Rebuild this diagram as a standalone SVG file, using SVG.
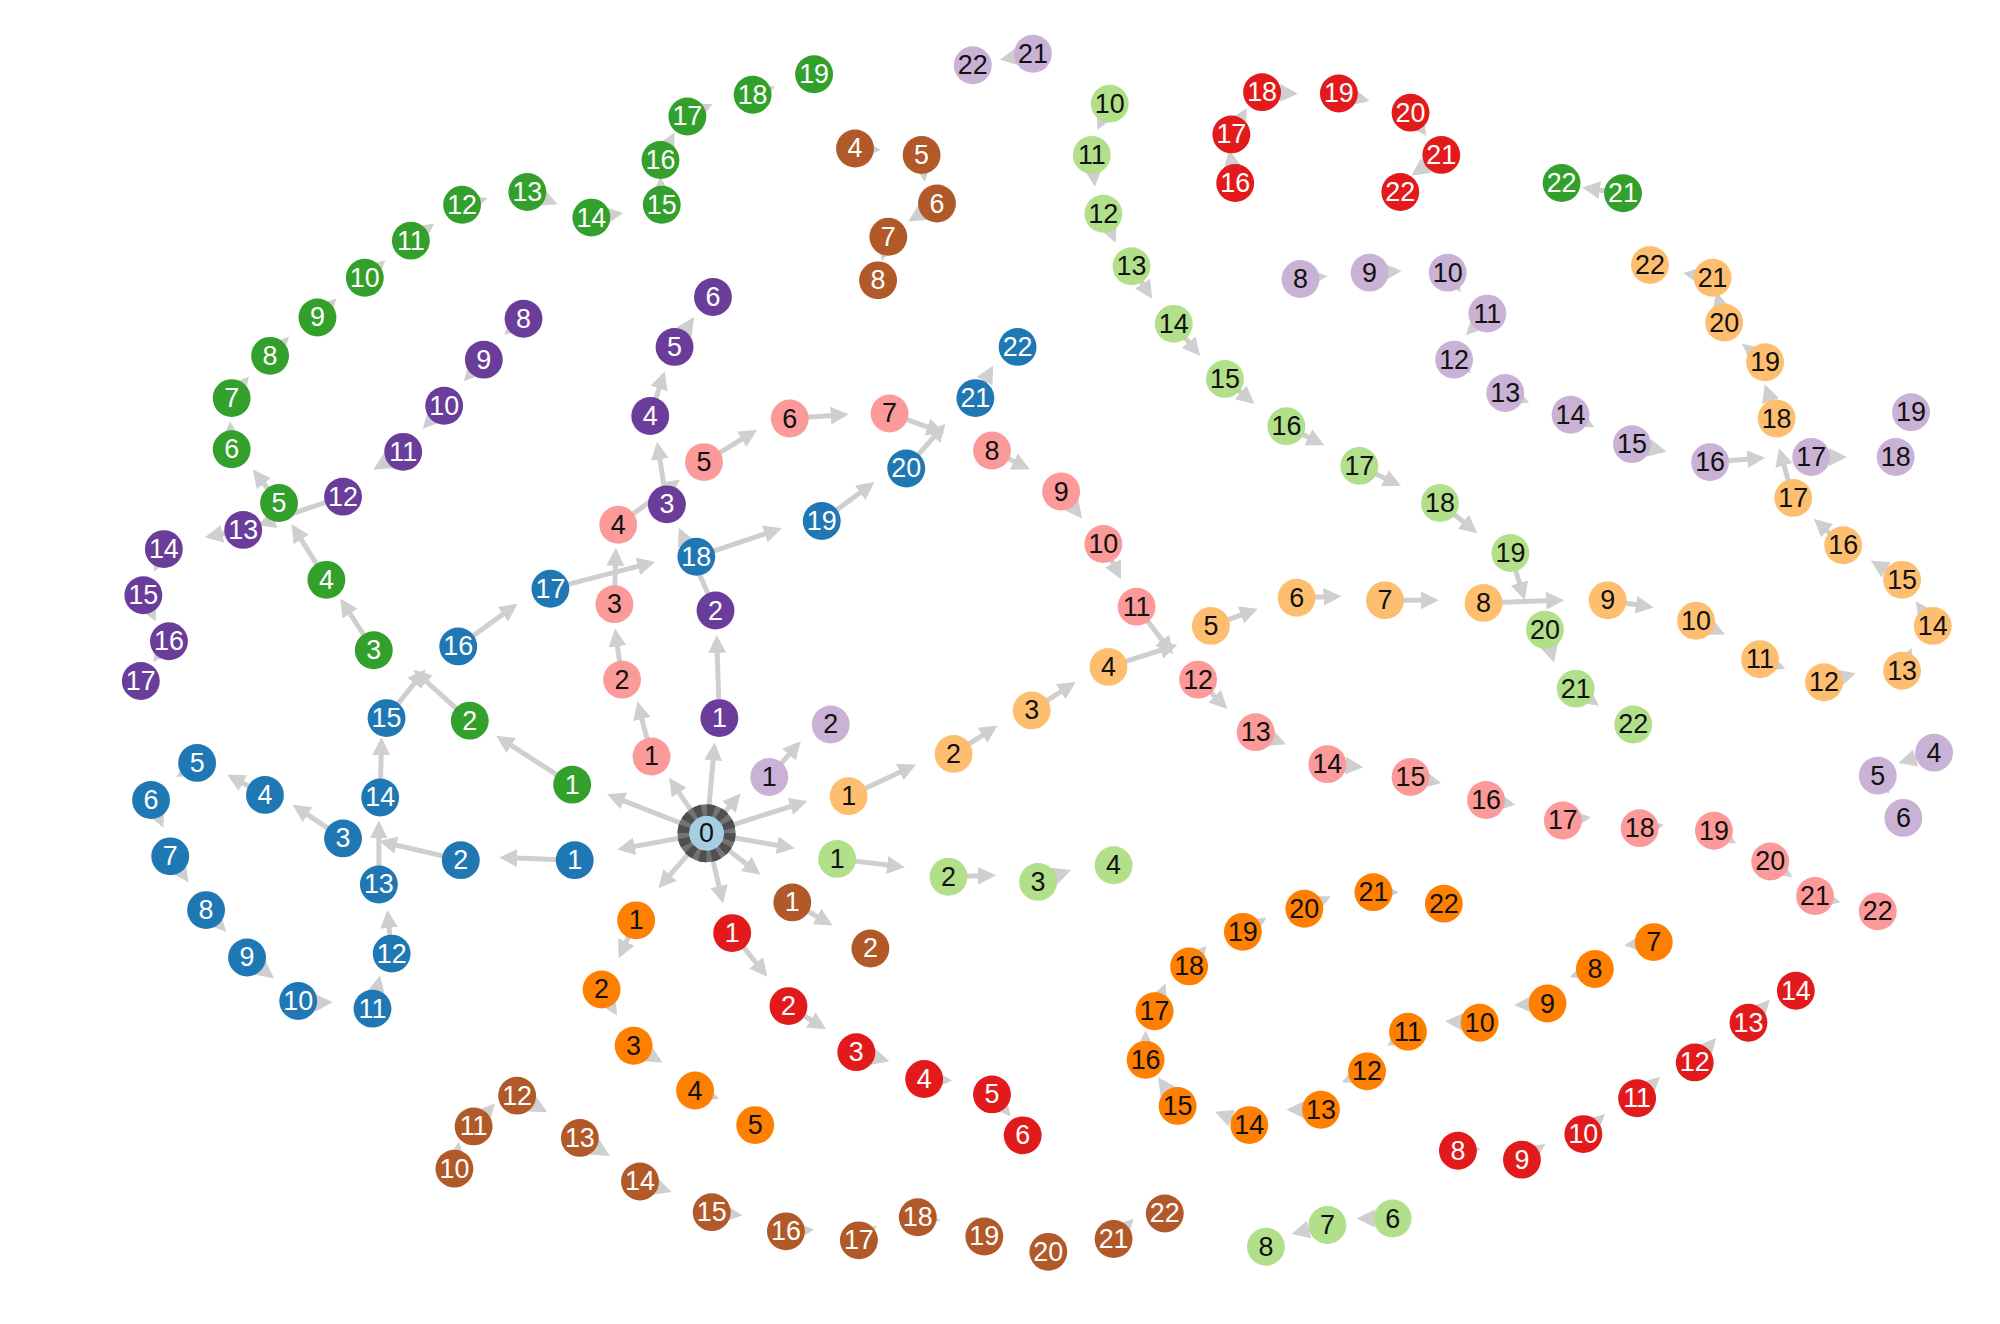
<svg xmlns="http://www.w3.org/2000/svg" width="2000" height="1324" viewBox="0 0 2000 1324">
<style>
.e line{stroke:#cfcfcf;stroke-width:3.9;marker-end:url(#ah)}
.n text,.c0 text{font-family:"Liberation Sans",Arial,Helvetica,sans-serif;font-size:21px;text-anchor:middle;dominant-baseline:central}
.n circle{stroke:none}
.c0 .fill{fill:#a6cee3;stroke:#737373;stroke-width:9}
.c0 .ring{fill:none;stroke:#4f4f4f;stroke-width:9;stroke-dasharray:5.5 4}
.c0 text{fill:#111}
.bl circle{fill:#1f78b4}.bl text{fill:#fff}
.gr circle{fill:#33a02c}.gr text{fill:#fff}
.pk circle{fill:#fb9a99}.pk text{fill:#111}
.pu circle{fill:#6a3d9a}.pu text{fill:#fff}
.lp circle{fill:#cab2d6}.lp text{fill:#111}
.lo circle{fill:#fdbf6f}.lo text{fill:#111}
.lg circle{fill:#b2df8a}.lg text{fill:#111}
.rd circle{fill:#e31a1c}.rd text{fill:#fff}
.or circle{fill:#ff7f00}.or text{fill:#111}
.br circle{fill:#b15928}.br text{fill:#fff}
</style>
<defs>
<marker id="ah" markerUnits="userSpaceOnUse" markerWidth="16" markerHeight="16" refX="10" refY="7" orient="auto">
<path d="M0,0 L14,7 L0,14 z" fill="#cfcfcf"/>
</marker>
</defs>
<rect width="2000" height="1324" fill="#fff"/>
<g transform="scale(1.28)">
<g id="connectors" class="e">
<line x1="552" y1="651" x2="486" y2="663"/>
<line x1="552" y1="651" x2="478" y2="622"/>
<line x1="552" y1="651" x2="525" y2="611"/>
<line x1="552" y1="651" x2="558" y2="584"/>
<line x1="552" y1="651" x2="576" y2="623"/>
<line x1="552" y1="651" x2="627" y2="627"/>
<line x1="552" y1="651" x2="617" y2="662"/>
<line x1="552" y1="651" x2="591" y2="681"/>
<line x1="552" y1="651" x2="564" y2="702"/>
<line x1="552" y1="651" x2="517" y2="691"/>
<line x1="449" y1="672" x2="394" y2="670"/>
<line x1="360" y1="672" x2="300" y2="658"/>
<line x1="268" y1="655" x2="232" y2="631"/>
<line x1="207" y1="621" x2="181" y2="607"/>
<line x1="154" y1="596" x2="141" y2="605"/>
<line x1="118" y1="625" x2="126" y2="643"/>
<line x1="133" y1="669" x2="145" y2="686"/>
<line x1="161" y1="711" x2="174" y2="725"/>
<line x1="193" y1="748" x2="211" y2="762"/>
<line x1="233" y1="784" x2="256" y2="783"/>
<line x1="291" y1="788" x2="296" y2="766"/>
<line x1="306" y1="745" x2="303" y2="715"/>
<line x1="296" y1="691" x2="296" y2="645"/>
<line x1="297" y1="623" x2="298" y2="580"/>
<line x1="302" y1="561" x2="330" y2="526"/>
<line x1="358" y1="505" x2="401" y2="474"/>
<line x1="430" y1="460" x2="508" y2="440"/>
<line x1="544" y1="435" x2="607" y2="414"/>
<line x1="642" y1="407" x2="680" y2="379"/>
<line x1="708" y1="366" x2="736" y2="334"/>
<line x1="762" y1="311" x2="774" y2="289"/>
<line x1="447" y1="613" x2="391" y2="577"/>
<line x1="367" y1="563" x2="326" y2="526"/>
<line x1="292" y1="508" x2="268" y2="471"/>
<line x1="255" y1="453" x2="230" y2="413"/>
<line x1="218" y1="393" x2="200" y2="370"/>
<line x1="181" y1="351" x2="180" y2="333"/>
<line x1="181" y1="311" x2="192" y2="297"/>
<line x1="211" y1="278" x2="223" y2="266"/>
<line x1="248" y1="248" x2="260" y2="236"/>
<line x1="285" y1="217" x2="298" y2="206"/>
<line x1="321" y1="188" x2="336" y2="177"/>
<line x1="361" y1="160" x2="377" y2="156"/>
<line x1="412" y1="150" x2="432" y2="158"/>
<line x1="462" y1="170" x2="483" y2="167"/>
<line x1="517" y1="160" x2="516" y2="142"/>
<line x1="516" y1="125" x2="525" y2="107"/>
<line x1="537" y1="91" x2="553" y2="83"/>
<line x1="588" y1="74" x2="602" y2="69"/>
<line x1="1268" y1="151" x2="1240" y2="147"/>
<line x1="509" y1="591" x2="499" y2="552"/>
<line x1="486" y1="531" x2="481" y2="495"/>
<line x1="480" y1="472" x2="481" y2="432"/>
<line x1="483" y1="410" x2="528" y2="377"/>
<line x1="550" y1="361" x2="588" y2="338"/>
<line x1="617" y1="327" x2="659" y2="324"/>
<line x1="695" y1="323" x2="734" y2="337"/>
<line x1="775" y1="352" x2="801" y2="365"/>
<line x1="829" y1="384" x2="843" y2="402"/>
<line x1="862" y1="425" x2="874" y2="449"/>
<line x1="888" y1="474" x2="914" y2="508"/>
<line x1="936" y1="531" x2="956" y2="551"/>
<line x1="981" y1="572" x2="1001" y2="580"/>
<line x1="1037" y1="597" x2="1061" y2="599"/>
<line x1="1102" y1="607" x2="1122" y2="611"/>
<line x1="1161" y1="625" x2="1180" y2="628"/>
<line x1="1221" y1="641" x2="1239" y2="639"/>
<line x1="1281" y1="647" x2="1296" y2="645"/>
<line x1="1339" y1="649" x2="1353" y2="657"/>
<line x1="1383" y1="673" x2="1397" y2="683"/>
<line x1="1418" y1="700" x2="1434" y2="704"/>
<line x1="562" y1="561" x2="560" y2="500"/>
<line x1="559" y1="477" x2="532" y2="416"/>
<line x1="521" y1="394" x2="514" y2="349"/>
<line x1="508" y1="325" x2="518" y2="294"/>
<line x1="527" y1="271" x2="540" y2="251"/>
<line x1="409" y1="249" x2="397" y2="259"/>
<line x1="378" y1="281" x2="365" y2="295"/>
<line x1="347" y1="317" x2="333" y2="332"/>
<line x1="315" y1="353" x2="295" y2="365"/>
<line x1="268" y1="388" x2="205" y2="409"/>
<line x1="190" y1="414" x2="164" y2="419"/>
<line x1="128" y1="429" x2="122" y2="443"/>
<line x1="112" y1="465" x2="120" y2="482"/>
<line x1="132" y1="501" x2="122" y2="514"/>
<line x1="601" y1="607" x2="623" y2="582"/>
<line x1="1511" y1="588" x2="1487" y2="595"/>
<line x1="1467" y1="606" x2="1474" y2="617"/>
<line x1="1016" y1="218" x2="1033" y2="216"/>
<line x1="1070" y1="213" x2="1091" y2="212"/>
<line x1="1131" y1="213" x2="1139" y2="225"/>
<line x1="1162" y1="245" x2="1148" y2="259"/>
<line x1="1136" y1="281" x2="1146" y2="289"/>
<line x1="1176" y1="307" x2="1191" y2="313"/>
<line x1="1227" y1="324" x2="1242" y2="332"/>
<line x1="1275" y1="347" x2="1298" y2="352"/>
<line x1="1336" y1="361" x2="1375" y2="358"/>
<line x1="1415" y1="357" x2="1439" y2="357"/>
<line x1="807" y1="42" x2="785" y2="46"/>
<line x1="663" y1="622" x2="712" y2="599"/>
<line x1="745" y1="589" x2="776" y2="569"/>
<line x1="806" y1="555" x2="837" y2="535"/>
<line x1="866" y1="521" x2="916" y2="505"/>
<line x1="946" y1="489" x2="979" y2="477"/>
<line x1="1013" y1="467" x2="1044" y2="466"/>
<line x1="1082" y1="469" x2="1120" y2="469"/>
<line x1="1159" y1="471" x2="1218" y2="469"/>
<line x1="1256" y1="469" x2="1288" y2="474"/>
<line x1="1325" y1="485" x2="1344" y2="494"/>
<line x1="1375" y1="515" x2="1391" y2="521"/>
<line x1="1425" y1="533" x2="1446" y2="527"/>
<line x1="1486" y1="524" x2="1492" y2="510"/>
<line x1="1510" y1="489" x2="1499" y2="473"/>
<line x1="1486" y1="453" x2="1465" y2="440"/>
<line x1="1440" y1="426" x2="1420" y2="408"/>
<line x1="1401" y1="389" x2="1391" y2="354"/>
<line x1="1388" y1="327" x2="1380" y2="304"/>
<line x1="1379" y1="283" x2="1364" y2="271"/>
<line x1="1347" y1="252" x2="1342" y2="232"/>
<line x1="1338" y1="217" x2="1319" y2="214"/>
<line x1="654" y1="671" x2="703" y2="677"/>
<line x1="741" y1="685" x2="774" y2="684"/>
<line x1="811" y1="689" x2="833" y2="681"/>
<line x1="1088" y1="952" x2="1064" y2="952"/>
<line x1="1037" y1="957" x2="1013" y2="963"/>
<line x1="867" y1="81" x2="859" y2="98"/>
<line x1="853" y1="121" x2="855" y2="142"/>
<line x1="862" y1="167" x2="870" y2="186"/>
<line x1="884" y1="208" x2="898" y2="230"/>
<line x1="917" y1="253" x2="935" y2="275"/>
<line x1="957" y1="296" x2="977" y2="313"/>
<line x1="1005" y1="333" x2="1031" y2="346"/>
<line x1="1062" y1="364" x2="1091" y2="378"/>
<line x1="1125" y1="393" x2="1151" y2="414"/>
<line x1="1180" y1="432" x2="1190" y2="465"/>
<line x1="1207" y1="492" x2="1213" y2="514"/>
<line x1="1231" y1="538" x2="1246" y2="549"/>
<line x1="572" y1="729" x2="597" y2="760"/>
<line x1="616" y1="786" x2="642" y2="802"/>
<line x1="669" y1="822" x2="691" y2="828"/>
<line x1="722" y1="843" x2="740" y2="844"/>
<line x1="775" y1="855" x2="787" y2="869"/>
<line x1="1139" y1="899" x2="1153" y2="898"/>
<line x1="1189" y1="906" x2="1204" y2="896"/>
<line x1="1237" y1="886" x2="1251" y2="873"/>
<line x1="1279" y1="858" x2="1294" y2="844"/>
<line x1="1324" y1="830" x2="1338" y2="814"/>
<line x1="1366" y1="799" x2="1380" y2="784"/>
<line x1="965" y1="143" x2="961" y2="121"/>
<line x1="962" y1="105" x2="972" y2="88"/>
<line x1="986" y1="72" x2="1010" y2="73"/>
<line x1="1046" y1="73" x2="1066" y2="78"/>
<line x1="1102" y1="88" x2="1112" y2="103"/>
<line x1="1126" y1="121" x2="1106" y2="135"/>
<line x1="497" y1="719" x2="485" y2="745"/>
<line x1="470" y1="773" x2="480" y2="790"/>
<line x1="495" y1="817" x2="514" y2="828"/>
<line x1="543" y1="852" x2="558" y2="857"/>
<line x1="1292" y1="736" x2="1273" y2="738"/>
<line x1="1246" y1="757" x2="1230" y2="762"/>
<line x1="1209" y1="784" x2="1187" y2="785"/>
<line x1="1156" y1="799" x2="1133" y2="798"/>
<line x1="1100" y1="806" x2="1087" y2="815"/>
<line x1="1068" y1="837" x2="1052" y2="844"/>
<line x1="1032" y1="867" x2="1009" y2="867"/>
<line x1="976" y1="879" x2="953" y2="870"/>
<line x1="920" y1="864" x2="907" y2="845"/>
<line x1="895" y1="828" x2="895" y2="809"/>
<line x1="902" y1="790" x2="909" y2="772"/>
<line x1="929" y1="755" x2="940" y2="742"/>
<line x1="971" y1="728" x2="986" y2="719"/>
<line x1="1019" y1="710" x2="1036" y2="702"/>
<line x1="1073" y1="697" x2="1089" y2="697"/>
<line x1="619" y1="705" x2="647" y2="721"/>
<line x1="668" y1="116" x2="684" y2="117"/>
<line x1="720" y1="121" x2="722" y2="138"/>
<line x1="732" y1="159" x2="713" y2="171"/>
<line x1="694" y1="185" x2="690" y2="200"/>
<line x1="355" y1="913" x2="358" y2="896"/>
<line x1="370" y1="880" x2="384" y2="865"/>
<line x1="404" y1="856" x2="424" y2="867"/>
<line x1="453" y1="889" x2="473" y2="901"/>
<line x1="500" y1="923" x2="521" y2="930"/>
<line x1="556" y1="947" x2="576" y2="949"/>
<line x1="614" y1="962" x2="632" y2="961"/>
<line x1="671" y1="969" x2="682" y2="960"/>
<line x1="717" y1="951" x2="731" y2="953"/>
<line x1="769" y1="966" x2="780" y2="967"/>
<line x1="819" y1="978" x2="830" y2="972"/>
<line x1="870" y1="968" x2="883" y2="955"/>
</g>
<g id="nodes">
<g id="n0" class="c0"><circle class="fill" cx="552" cy="651" r="18.2"/><circle class="ring" cx="552" cy="651" r="18.2"/><text x="552" y="651">0</text></g>
<g id="blue" class="n bl">
<g id="b1"><circle cx="449" cy="672" r="14.8"/><text x="449" y="672">1</text></g>
<g id="b2"><circle cx="360" cy="672" r="14.8"/><text x="360" y="672">2</text></g>
<g id="b3"><circle cx="268" cy="655" r="14.8"/><text x="268" y="655">3</text></g>
<g id="b4"><circle cx="207" cy="621" r="14.8"/><text x="207" y="621">4</text></g>
<g id="b5"><circle cx="154" cy="596" r="14.8"/><text x="154" y="596">5</text></g>
<g id="b6"><circle cx="118" cy="625" r="14.8"/><text x="118" y="625">6</text></g>
<g id="b7"><circle cx="133" cy="669" r="14.8"/><text x="133" y="669">7</text></g>
<g id="b8"><circle cx="161" cy="711" r="14.8"/><text x="161" y="711">8</text></g>
<g id="b9"><circle cx="193" cy="748" r="14.8"/><text x="193" y="748">9</text></g>
<g id="b10"><circle cx="233" cy="782" r="14.8"/><text x="233" y="782">10</text></g>
<g id="b11"><circle cx="291" cy="788" r="14.8"/><text x="291" y="788">11</text></g>
<g id="b12"><circle cx="306" cy="745" r="14.8"/><text x="306" y="745">12</text></g>
<g id="b13"><circle cx="296" cy="691" r="14.8"/><text x="296" y="691">13</text></g>
<g id="b14"><circle cx="297" cy="623" r="14.8"/><text x="297" y="623">14</text></g>
<g id="b15"><circle cx="302" cy="561" r="14.8"/><text x="302" y="561">15</text></g>
<g id="b16"><circle cx="358" cy="505" r="14.8"/><text x="358" y="505">16</text></g>
<g id="b17"><circle cx="430" cy="460" r="14.8"/><text x="430" y="460">17</text></g>
<g id="b18"><circle cx="544" cy="435" r="14.8"/><text x="544" y="435">18</text></g>
<g id="b19"><circle cx="642" cy="407" r="14.8"/><text x="642" y="407">19</text></g>
<g id="b20"><circle cx="708" cy="366" r="14.8"/><text x="708" y="366">20</text></g>
<g id="b21"><circle cx="762" cy="311" r="14.8"/><text x="762" y="311">21</text></g>
<g id="b22"><circle cx="795" cy="271" r="14.8"/><text x="795" y="271">22</text></g>
</g>
<g id="green" class="n gr">
<g id="g1"><circle cx="447" cy="613" r="14.8"/><text x="447" y="613">1</text></g>
<g id="g2"><circle cx="367" cy="563" r="14.8"/><text x="367" y="563">2</text></g>
<g id="g3"><circle cx="292" cy="508" r="14.8"/><text x="292" y="508">3</text></g>
<g id="g4"><circle cx="255" cy="453" r="14.8"/><text x="255" y="453">4</text></g>
<g id="g5"><circle cx="218" cy="393" r="14.8"/><text x="218" y="393">5</text></g>
<g id="g6"><circle cx="181" cy="351" r="14.8"/><text x="181" y="351">6</text></g>
<g id="g7"><circle cx="181" cy="311" r="14.8"/><text x="181" y="311">7</text></g>
<g id="g8"><circle cx="211" cy="278" r="14.8"/><text x="211" y="278">8</text></g>
<g id="g9"><circle cx="248" cy="248" r="14.8"/><text x="248" y="248">9</text></g>
<g id="g10"><circle cx="285" cy="217" r="14.8"/><text x="285" y="217">10</text></g>
<g id="g11"><circle cx="321" cy="188" r="14.8"/><text x="321" y="188">11</text></g>
<g id="g12"><circle cx="361" cy="160" r="14.8"/><text x="361" y="160">12</text></g>
<g id="g13"><circle cx="412" cy="150" r="14.8"/><text x="412" y="150">13</text></g>
<g id="g14"><circle cx="462" cy="170" r="14.8"/><text x="462" y="170">14</text></g>
<g id="g15"><circle cx="517" cy="160" r="14.8"/><text x="517" y="160">15</text></g>
<g id="g16"><circle cx="516" cy="125" r="14.8"/><text x="516" y="125">16</text></g>
<g id="g17"><circle cx="537" cy="91" r="14.8"/><text x="537" y="91">17</text></g>
<g id="g18"><circle cx="588" cy="74" r="14.8"/><text x="588" y="74">18</text></g>
<g id="g19"><circle cx="636" cy="58" r="14.8"/><text x="636" y="58">19</text></g>
<g id="g21"><circle cx="1268" cy="151" r="14.8"/><text x="1268" y="151">21</text></g>
<g id="g22"><circle cx="1220" cy="143" r="14.8"/><text x="1220" y="143">22</text></g>
</g>
<g id="pink" class="n pk">
<g id="p1"><circle cx="509" cy="591" r="14.8"/><text x="509" y="591">1</text></g>
<g id="p2"><circle cx="486" cy="531" r="14.8"/><text x="486" y="531">2</text></g>
<g id="p3"><circle cx="480" cy="472" r="14.8"/><text x="480" y="472">3</text></g>
<g id="p4"><circle cx="483" cy="410" r="14.8"/><text x="483" y="410">4</text></g>
<g id="p5"><circle cx="550" cy="361" r="14.8"/><text x="550" y="361">5</text></g>
<g id="p6"><circle cx="617" cy="327" r="14.8"/><text x="617" y="327">6</text></g>
<g id="p7"><circle cx="695" cy="323" r="14.8"/><text x="695" y="323">7</text></g>
<g id="p8"><circle cx="775" cy="352" r="14.8"/><text x="775" y="352">8</text></g>
<g id="p9"><circle cx="829" cy="384" r="14.8"/><text x="829" y="384">9</text></g>
<g id="p10"><circle cx="862" cy="425" r="14.8"/><text x="862" y="425">10</text></g>
<g id="p11"><circle cx="888" cy="474" r="14.8"/><text x="888" y="474">11</text></g>
<g id="p12"><circle cx="936" cy="531" r="14.8"/><text x="936" y="531">12</text></g>
<g id="p13"><circle cx="981" cy="572" r="14.8"/><text x="981" y="572">13</text></g>
<g id="p14"><circle cx="1037" cy="597" r="14.8"/><text x="1037" y="597">14</text></g>
<g id="p15"><circle cx="1102" cy="607" r="14.8"/><text x="1102" y="607">15</text></g>
<g id="p16"><circle cx="1161" cy="625" r="14.8"/><text x="1161" y="625">16</text></g>
<g id="p17"><circle cx="1221" cy="641" r="14.8"/><text x="1221" y="641">17</text></g>
<g id="p18"><circle cx="1281" cy="647" r="14.8"/><text x="1281" y="647">18</text></g>
<g id="p19"><circle cx="1339" cy="649" r="14.8"/><text x="1339" y="649">19</text></g>
<g id="p20"><circle cx="1383" cy="673" r="14.8"/><text x="1383" y="673">20</text></g>
<g id="p21"><circle cx="1418" cy="700" r="14.8"/><text x="1418" y="700">21</text></g>
<g id="p22"><circle cx="1467" cy="712" r="14.8"/><text x="1467" y="712">22</text></g>
</g>
<g id="purple" class="n pu">
<g id="u1"><circle cx="562" cy="561" r="14.8"/><text x="562" y="561">1</text></g>
<g id="u2"><circle cx="559" cy="477" r="14.8"/><text x="559" y="477">2</text></g>
<g id="u3"><circle cx="521" cy="394" r="14.8"/><text x="521" y="394">3</text></g>
<g id="u4"><circle cx="508" cy="325" r="14.8"/><text x="508" y="325">4</text></g>
<g id="u5"><circle cx="527" cy="271" r="14.8"/><text x="527" y="271">5</text></g>
<g id="u6"><circle cx="557" cy="232" r="14.8"/><text x="557" y="232">6</text></g>
<g id="u8"><circle cx="409" cy="249" r="14.8"/><text x="409" y="249">8</text></g>
<g id="u9"><circle cx="378" cy="281" r="14.8"/><text x="378" y="281">9</text></g>
<g id="u10"><circle cx="347" cy="317" r="14.8"/><text x="347" y="317">10</text></g>
<g id="u11"><circle cx="315" cy="353" r="14.8"/><text x="315" y="353">11</text></g>
<g id="u12"><circle cx="268" cy="388" r="14.8"/><text x="268" y="388">12</text></g>
<g id="u13"><circle cx="190" cy="414" r="14.8"/><text x="190" y="414">13</text></g>
<g id="u14"><circle cx="128" cy="429" r="14.8"/><text x="128" y="429">14</text></g>
<g id="u15"><circle cx="112" cy="465" r="14.8"/><text x="112" y="465">15</text></g>
<g id="u16"><circle cx="132" cy="501" r="14.8"/><text x="132" y="501">16</text></g>
<g id="u17"><circle cx="110" cy="532" r="14.8"/><text x="110" y="532">17</text></g>
</g>
<g id="lightpurple" class="n lp">
<g id="lp1"><circle cx="601" cy="607" r="14.8"/><text x="601" y="607">1</text></g>
<g id="lp2"><circle cx="649" cy="566" r="14.8"/><text x="649" y="566">2</text></g>
<g id="lp4"><circle cx="1511" cy="588" r="14.8"/><text x="1511" y="588">4</text></g>
<g id="lp5"><circle cx="1467" cy="606" r="14.8"/><text x="1467" y="606">5</text></g>
<g id="lp6"><circle cx="1487" cy="639" r="14.8"/><text x="1487" y="639">6</text></g>
<g id="lp8"><circle cx="1016" cy="218" r="14.8"/><text x="1016" y="218">8</text></g>
<g id="lp9"><circle cx="1070" cy="213" r="14.8"/><text x="1070" y="213">9</text></g>
<g id="lp10"><circle cx="1131" cy="213" r="14.8"/><text x="1131" y="213">10</text></g>
<g id="lp11"><circle cx="1162" cy="245" r="14.8"/><text x="1162" y="245">11</text></g>
<g id="lp12"><circle cx="1136" cy="281" r="14.8"/><text x="1136" y="281">12</text></g>
<g id="lp13"><circle cx="1176" cy="307" r="14.8"/><text x="1176" y="307">13</text></g>
<g id="lp14"><circle cx="1227" cy="324" r="14.8"/><text x="1227" y="324">14</text></g>
<g id="lp15"><circle cx="1275" cy="347" r="14.8"/><text x="1275" y="347">15</text></g>
<g id="lp16"><circle cx="1336" cy="361" r="14.8"/><text x="1336" y="361">16</text></g>
<g id="lp17"><circle cx="1415" cy="357" r="14.8"/><text x="1415" y="357">17</text></g>
<g id="lp18"><circle cx="1481" cy="357" r="14.8"/><text x="1481" y="357">18</text></g>
<g id="lp19"><circle cx="1493" cy="322" r="14.8"/><text x="1493" y="322">19</text></g>
<g id="lp21"><circle cx="807" cy="42" r="14.8"/><text x="807" y="42">21</text></g>
<g id="lp22"><circle cx="760" cy="51" r="14.8"/><text x="760" y="51">22</text></g>
</g>
<g id="lightorange" class="n lo">
<g id="lo1"><circle cx="663" cy="622" r="14.8"/><text x="663" y="622">1</text></g>
<g id="lo2"><circle cx="745" cy="589" r="14.8"/><text x="745" y="589">2</text></g>
<g id="lo3"><circle cx="806" cy="555" r="14.8"/><text x="806" y="555">3</text></g>
<g id="lo4"><circle cx="866" cy="521" r="14.8"/><text x="866" y="521">4</text></g>
<g id="lo5"><circle cx="946" cy="489" r="14.8"/><text x="946" y="489">5</text></g>
<g id="lo6"><circle cx="1013" cy="467" r="14.8"/><text x="1013" y="467">6</text></g>
<g id="lo7"><circle cx="1082" cy="469" r="14.8"/><text x="1082" y="469">7</text></g>
<g id="lo8"><circle cx="1159" cy="471" r="14.8"/><text x="1159" y="471">8</text></g>
<g id="lo9"><circle cx="1256" cy="469" r="14.8"/><text x="1256" y="469">9</text></g>
<g id="lo10"><circle cx="1325" cy="485" r="14.8"/><text x="1325" y="485">10</text></g>
<g id="lo11"><circle cx="1375" cy="515" r="14.8"/><text x="1375" y="515">11</text></g>
<g id="lo12"><circle cx="1425" cy="533" r="14.8"/><text x="1425" y="533">12</text></g>
<g id="lo13"><circle cx="1486" cy="524" r="14.8"/><text x="1486" y="524">13</text></g>
<g id="lo14"><circle cx="1510" cy="489" r="14.8"/><text x="1510" y="489">14</text></g>
<g id="lo15"><circle cx="1486" cy="453" r="14.8"/><text x="1486" y="453">15</text></g>
<g id="lo16"><circle cx="1440" cy="426" r="14.8"/><text x="1440" y="426">16</text></g>
<g id="lo17"><circle cx="1401" cy="389" r="14.8"/><text x="1401" y="389">17</text></g>
<g id="lo18"><circle cx="1388" cy="327" r="14.8"/><text x="1388" y="327">18</text></g>
<g id="lo19"><circle cx="1379" cy="283" r="14.8"/><text x="1379" y="283">19</text></g>
<g id="lo20"><circle cx="1347" cy="252" r="14.8"/><text x="1347" y="252">20</text></g>
<g id="lo21"><circle cx="1338" cy="217" r="14.8"/><text x="1338" y="217">21</text></g>
<g id="lo22"><circle cx="1289" cy="207" r="14.8"/><text x="1289" y="207">22</text></g>
</g>
<g id="lightgreen" class="n lg">
<g id="lg1"><circle cx="654" cy="671" r="14.8"/><text x="654" y="671">1</text></g>
<g id="lg2"><circle cx="741" cy="685" r="14.8"/><text x="741" y="685">2</text></g>
<g id="lg3"><circle cx="811" cy="689" r="14.8"/><text x="811" y="689">3</text></g>
<g id="lg4"><circle cx="870" cy="676" r="14.8"/><text x="870" y="676">4</text></g>
<g id="lg6"><circle cx="1088" cy="952" r="14.8"/><text x="1088" y="952">6</text></g>
<g id="lg7"><circle cx="1037" cy="957" r="14.8"/><text x="1037" y="957">7</text></g>
<g id="lg8"><circle cx="989" cy="974" r="14.8"/><text x="989" y="974">8</text></g>
<g id="lg10"><circle cx="867" cy="81" r="14.8"/><text x="867" y="81">10</text></g>
<g id="lg11"><circle cx="853" cy="121" r="14.8"/><text x="853" y="121">11</text></g>
<g id="lg12"><circle cx="862" cy="167" r="14.8"/><text x="862" y="167">12</text></g>
<g id="lg13"><circle cx="884" cy="208" r="14.8"/><text x="884" y="208">13</text></g>
<g id="lg14"><circle cx="917" cy="253" r="14.8"/><text x="917" y="253">14</text></g>
<g id="lg15"><circle cx="957" cy="296" r="14.8"/><text x="957" y="296">15</text></g>
<g id="lg16"><circle cx="1005" cy="333" r="14.8"/><text x="1005" y="333">16</text></g>
<g id="lg17"><circle cx="1062" cy="364" r="14.8"/><text x="1062" y="364">17</text></g>
<g id="lg18"><circle cx="1125" cy="393" r="14.8"/><text x="1125" y="393">18</text></g>
<g id="lg19"><circle cx="1180" cy="432" r="14.8"/><text x="1180" y="432">19</text></g>
<g id="lg20"><circle cx="1207" cy="492" r="14.8"/><text x="1207" y="492">20</text></g>
<g id="lg21"><circle cx="1231" cy="538" r="14.8"/><text x="1231" y="538">21</text></g>
<g id="lg22"><circle cx="1276" cy="566" r="14.8"/><text x="1276" y="566">22</text></g>
</g>
<g id="red" class="n rd">
<g id="r1"><circle cx="572" cy="729" r="14.8"/><text x="572" y="729">1</text></g>
<g id="r2"><circle cx="616" cy="786" r="14.8"/><text x="616" y="786">2</text></g>
<g id="r3"><circle cx="669" cy="822" r="14.8"/><text x="669" y="822">3</text></g>
<g id="r4"><circle cx="722" cy="843" r="14.8"/><text x="722" y="843">4</text></g>
<g id="r5"><circle cx="775" cy="855" r="14.8"/><text x="775" y="855">5</text></g>
<g id="r6"><circle cx="799" cy="887" r="14.8"/><text x="799" y="887">6</text></g>
<g id="r8"><circle cx="1139" cy="899" r="14.8"/><text x="1139" y="899">8</text></g>
<g id="r9"><circle cx="1189" cy="906" r="14.8"/><text x="1189" y="906">9</text></g>
<g id="r10"><circle cx="1237" cy="886" r="14.8"/><text x="1237" y="886">10</text></g>
<g id="r11"><circle cx="1279" cy="858" r="14.8"/><text x="1279" y="858">11</text></g>
<g id="r12"><circle cx="1324" cy="830" r="14.8"/><text x="1324" y="830">12</text></g>
<g id="r13"><circle cx="1366" cy="799" r="14.8"/><text x="1366" y="799">13</text></g>
<g id="r14"><circle cx="1403" cy="774" r="14.8"/><text x="1403" y="774">14</text></g>
<g id="r16"><circle cx="965" cy="143" r="14.8"/><text x="965" y="143">16</text></g>
<g id="r17"><circle cx="962" cy="105" r="14.8"/><text x="962" y="105">17</text></g>
<g id="r18"><circle cx="986" cy="72" r="14.8"/><text x="986" y="72">18</text></g>
<g id="r19"><circle cx="1046" cy="73" r="14.8"/><text x="1046" y="73">19</text></g>
<g id="r20"><circle cx="1102" cy="88" r="14.8"/><text x="1102" y="88">20</text></g>
<g id="r21"><circle cx="1126" cy="121" r="14.8"/><text x="1126" y="121">21</text></g>
<g id="r22"><circle cx="1094" cy="150" r="14.8"/><text x="1094" y="150">22</text></g>
</g>
<g id="orange" class="n or">
<g id="o1"><circle cx="497" cy="719" r="14.8"/><text x="497" y="719">1</text></g>
<g id="o2"><circle cx="470" cy="773" r="14.8"/><text x="470" y="773">2</text></g>
<g id="o3"><circle cx="495" cy="817" r="14.8"/><text x="495" y="817">3</text></g>
<g id="o4"><circle cx="543" cy="852" r="14.8"/><text x="543" y="852">4</text></g>
<g id="o5"><circle cx="590" cy="879" r="14.8"/><text x="590" y="879">5</text></g>
<g id="o7"><circle cx="1292" cy="736" r="14.8"/><text x="1292" y="736">7</text></g>
<g id="o8"><circle cx="1246" cy="757" r="14.8"/><text x="1246" y="757">8</text></g>
<g id="o9"><circle cx="1209" cy="784" r="14.8"/><text x="1209" y="784">9</text></g>
<g id="o10"><circle cx="1156" cy="799" r="14.8"/><text x="1156" y="799">10</text></g>
<g id="o11"><circle cx="1100" cy="806" r="14.8"/><text x="1100" y="806">11</text></g>
<g id="o12"><circle cx="1068" cy="837" r="14.8"/><text x="1068" y="837">12</text></g>
<g id="o13"><circle cx="1032" cy="867" r="14.8"/><text x="1032" y="867">13</text></g>
<g id="o14"><circle cx="976" cy="879" r="14.8"/><text x="976" y="879">14</text></g>
<g id="o15"><circle cx="920" cy="864" r="14.8"/><text x="920" y="864">15</text></g>
<g id="o16"><circle cx="895" cy="828" r="14.8"/><text x="895" y="828">16</text></g>
<g id="o17"><circle cx="902" cy="790" r="14.8"/><text x="902" y="790">17</text></g>
<g id="o18"><circle cx="929" cy="755" r="14.8"/><text x="929" y="755">18</text></g>
<g id="o19"><circle cx="971" cy="728" r="14.8"/><text x="971" y="728">19</text></g>
<g id="o20"><circle cx="1019" cy="710" r="14.8"/><text x="1019" y="710">20</text></g>
<g id="o21"><circle cx="1073" cy="697" r="14.8"/><text x="1073" y="697">21</text></g>
<g id="o22"><circle cx="1128" cy="706" r="14.8"/><text x="1128" y="706">22</text></g>
</g>
<g id="brown" class="n br">
<g id="w1"><circle cx="619" cy="705" r="14.8"/><text x="619" y="705">1</text></g>
<g id="w2"><circle cx="680" cy="741" r="14.8"/><text x="680" y="741">2</text></g>
<g id="w4"><circle cx="668" cy="116" r="14.8"/><text x="668" y="116">4</text></g>
<g id="w5"><circle cx="720" cy="121" r="14.8"/><text x="720" y="121">5</text></g>
<g id="w6"><circle cx="732" cy="159" r="14.8"/><text x="732" y="159">6</text></g>
<g id="w7"><circle cx="694" cy="185" r="14.8"/><text x="694" y="185">7</text></g>
<g id="w8"><circle cx="686" cy="219" r="14.8"/><text x="686" y="219">8</text></g>
<g id="w10"><circle cx="355" cy="913" r="14.8"/><text x="355" y="913">10</text></g>
<g id="w11"><circle cx="370" cy="880" r="14.8"/><text x="370" y="880">11</text></g>
<g id="w12"><circle cx="404" cy="856" r="14.8"/><text x="404" y="856">12</text></g>
<g id="w13"><circle cx="453" cy="889" r="14.8"/><text x="453" y="889">13</text></g>
<g id="w14"><circle cx="500" cy="923" r="14.8"/><text x="500" y="923">14</text></g>
<g id="w15"><circle cx="556" cy="947" r="14.8"/><text x="556" y="947">15</text></g>
<g id="w16"><circle cx="614" cy="962" r="14.8"/><text x="614" y="962">16</text></g>
<g id="w17"><circle cx="671" cy="969" r="14.8"/><text x="671" y="969">17</text></g>
<g id="w18"><circle cx="717" cy="951" r="14.8"/><text x="717" y="951">18</text></g>
<g id="w19"><circle cx="769" cy="966" r="14.8"/><text x="769" y="966">19</text></g>
<g id="w20"><circle cx="819" cy="978" r="14.8"/><text x="819" y="978">20</text></g>
<g id="w21"><circle cx="870" cy="968" r="14.8"/><text x="870" y="968">21</text></g>
<g id="w22"><circle cx="910" cy="948" r="14.8"/><text x="910" y="948">22</text></g>
</g>
</g>
</g>
</svg>
